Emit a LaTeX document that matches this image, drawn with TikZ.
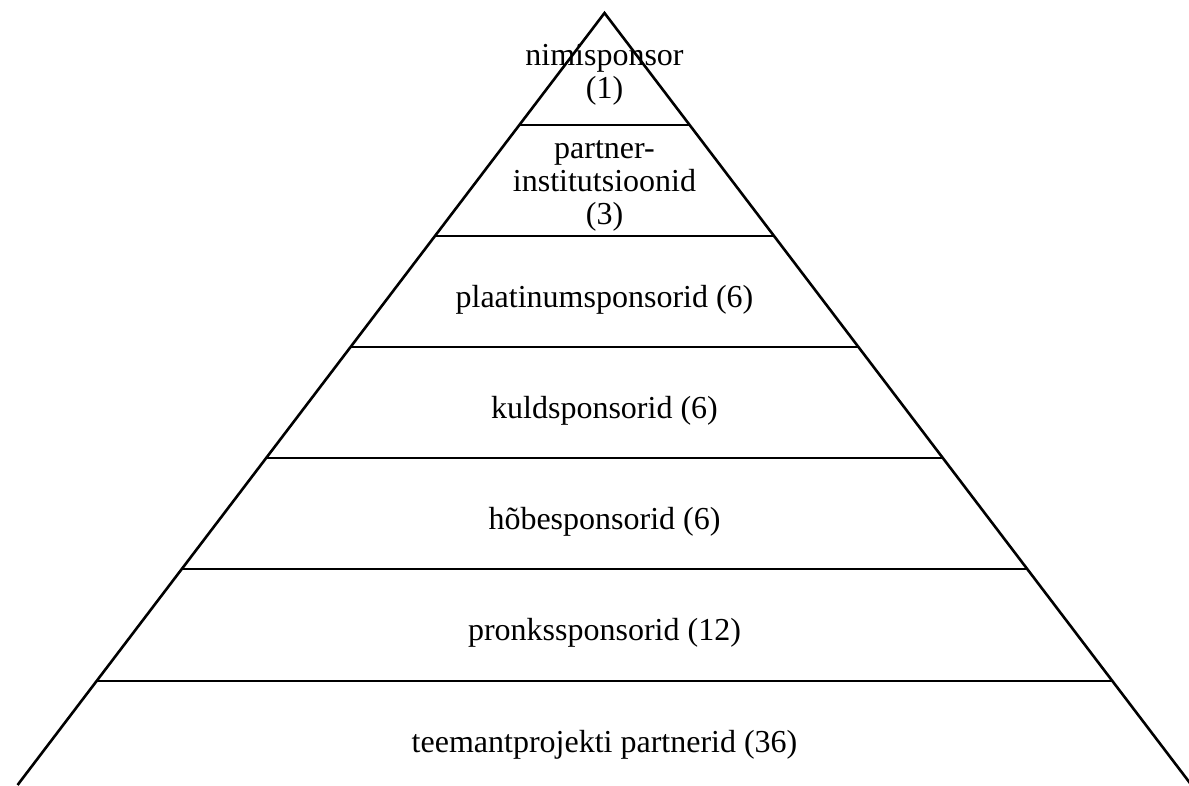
\documentclass[tikz,border=0pt]{standalone}
\usepackage{fontspec}
\setmainfont{Liberation Serif}
\begin{document}
\begin{tikzpicture}[x=1pt,y=-1pt,
  edge/.style={line width=2.6pt,line join=miter},
  tier/.style={align=center,font=\fontsize{32}{33}\selectfont,inner sep=0pt}]
\useasboundingbox (0,0) rectangle (1189,785);
\def\cx{604.5}
\coordinate (apex) at (\cx,13);
\coordinate (bl) at ({\cx-0.7603*772},785);
\coordinate (br) at ({\cx+0.7603*772},785);
\draw[edge] (bl) -- (apex) -- (br);
\foreach \y [count=\i] in {125,236,347,458,569,681}{
  \coordinate (l\i) at ({\cx-0.7603*(\y-13)},\y);
  \coordinate (r\i) at ({\cx+0.7603*(\y-13)},\y);
  \draw[edge] (l\i) -- (r\i);
}
\node[tier] (t1) at (\cx,75) {nimisponsor\\(1)};
\node[tier] (t2) at (\cx,186) {partner-\\institutsioonid\\(3)};
\node[tier] (t3) at (\cx,300) {plaatinumsponsorid (6)};
\node[tier] (t4) at (\cx,411) {kuldsponsorid (6)};
\node[tier] (t5) at (\cx,522) {hõbesponsorid (6)};
\node[tier] (t6) at (\cx,633) {pronkssponsorid (12)};
\node[tier] (t7) at (\cx,744.5) {teemantprojekti partnerid (36)};
\end{tikzpicture}
\end{document}
